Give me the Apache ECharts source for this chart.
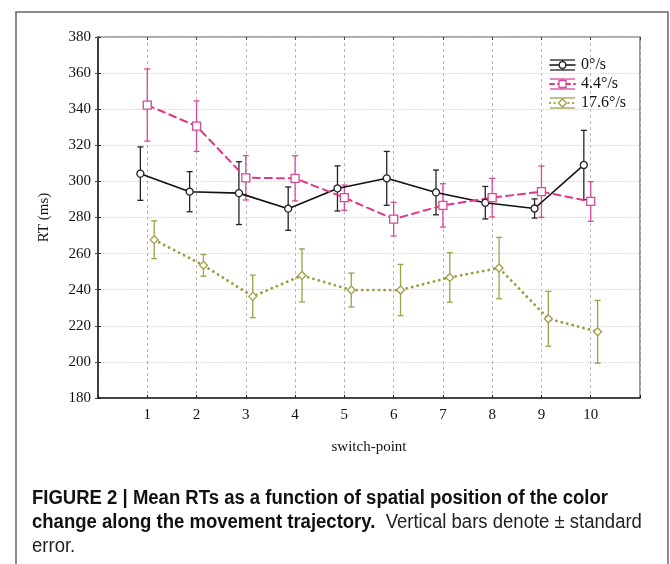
<!DOCTYPE html>
<html>
<head>
<meta charset="utf-8">
<script src="https://cdn.jsdelivr.net/npm/echarts@6/dist/echarts.min.js"></script>
<style>html,body{margin:0;padding:0;background:#fff;}#c{width:670px;height:564px;}</style>
</head>
<body>
<div id="c"></div>
<script>
// ---- data ----
var switchPoints = [1, 2, 3, 4, 5, 6, 7, 8, 9, 10];
var seriesNames = ['0°/s', '4.4°/s', '17.6°/s'];
var mean0 = [304.3, 294.3, 293.5, 284.9, 296.1, 301.7, 293.9, 288.2, 285.0, 309.1];
var se0 = [14.8, 11.1, 17.4, 12.0, 12.5, 14.9, 12.4, 9.0, 5.3, 19.2];
var mean44 = [342.3, 330.6, 302.0, 301.7, 291.0, 279.1, 286.7, 291.0, 294.3, 288.9];
var se44 = [20.0, 14.0, 12.3, 12.5, 7.0, 9.3, 12.0, 10.7, 14.2, 11.0];
var mean176 = [267.7, 253.5, 236.3, 247.9, 239.8, 239.8, 246.8, 252.0, 223.9, 216.7];
var se176 = [10.5, 6.0, 11.8, 14.7, 9.4, 14.2, 13.7, 17.0, 15.2, 17.4];
var yTicks = [180, 200, 220, 240, 260, 280, 300, 320, 340, 360, 380];

// ---- styling ----
var colors = ['#111111', '#e2358a', '#9c9c3c'];
var barColors = ['#222222', '#d9489a', '#a0a048'];
var jitter = [-0.14, 0, 0.14];
var symbols = ['circle', 'rect', 'diamond'];
var symbolSizes = [7, 8, 8];
var lineTypes = ['solid', [7, 5], [0.1, 5.5]];
var lineWidths = [1.6, 2, 2.8];
var serif = 'Liberation Serif, DejaVu Serif, serif';
var capFont = '"Liberation Sans", Arial, sans-serif';

var means = [mean0, mean44, mean176];
var ses = [se0, se44, se176];

function makeErrRender(color) {
  return function (params, api) {
    var x = api.value(0), lo = api.value(1), hi = api.value(2);
    var a = api.coord([x, lo]), b = api.coord([x, hi]);
    var w = 3;
    var st = { stroke: color, lineWidth: 1.3, fill: 'none' };
    return { type: 'group', children: [
      { type: 'line', shape: { x1: a[0], y1: a[1], x2: b[0], y2: b[1] }, style: st },
      { type: 'line', shape: { x1: a[0] - w, y1: a[1], x2: a[0] + w, y2: a[1] }, style: st },
      { type: 'line', shape: { x1: b[0] - w, y1: b[1], x2: b[0] + w, y2: b[1] }, style: st }
    ]};
  };
}

var series = [];
for (var s = 0; s < 3; s++) {
  var errData = [], lineData = [];
  for (var i = 0; i < switchPoints.length; i++) {
    var x = switchPoints[i] + jitter[s];
    errData.push([x, means[s][i] - ses[s][i], means[s][i] + ses[s][i]]);
    lineData.push([x, means[s][i]]);
  }
  series.push({
    type: 'custom', name: seriesNames[s] + ' err', renderItem: makeErrRender(barColors[s]),
    data: errData, encode: { x: 0, y: [1, 2] }, z: 2, silent: true
  });
  series.push({
    type: 'line', name: seriesNames[s], data: lineData, z: 3,
    symbol: symbols[s], symbolSize: symbolSizes[s], showAllSymbol: true,
    lineStyle: { color: colors[s], width: lineWidths[s], type: lineTypes[s], cap: 'round' },
    itemStyle: { color: '#ffffff', borderColor: barColors[s], borderWidth: 1.3 },
    animation: false
  });
}

// legend as graphics
var legendG = [];
var lx0 = 550, lx1 = 575, ly0 = 65, ldy = 19;
for (var k = 0; k < 3; k++) {
  var cy = ly0 + k * ldy;
  var st = { stroke: barColors[k], lineWidth: 1.3 };
  legendG.push({ type: 'line', shape: { x1: lx0, y1: cy - 5, x2: lx1, y2: cy - 5 }, style: st, z: 10 });
  legendG.push({ type: 'line', shape: { x1: lx0, y1: cy + 5, x2: lx1, y2: cy + 5 }, style: st, z: 10 });
  legendG.push({ type: 'line', shape: { x1: (lx0 + lx1) / 2, y1: cy - 5, x2: (lx0 + lx1) / 2, y2: cy + 5 }, style: st, z: 10 });
  legendG.push({ type: 'line', shape: { x1: lx0, y1: cy, x2: lx1, y2: cy },
    style: { stroke: colors[k], lineWidth: k === 2 ? 2.2 : lineWidths[k], lineCap: 'round',
      lineDash: k === 0 ? null : (k === 1 ? [4, 4] : [0.1, 4.5]) }, z: 10 });
  var mk;
  if (k === 0) mk = { type: 'circle', shape: { cx: (lx0 + lx1) / 2, cy: cy, r: 3.3 } };
  else if (k === 1) mk = { type: 'rect', shape: { x: (lx0 + lx1) / 2 - 3.5, y: cy - 3.5, width: 7, height: 7 } };
  else mk = { type: 'polygon', shape: { points: [[(lx0 + lx1) / 2, cy - 4], [(lx0 + lx1) / 2 + 4, cy], [(lx0 + lx1) / 2, cy + 4], [(lx0 + lx1) / 2 - 4, cy]] } };
  mk.style = { fill: '#fff', stroke: barColors[k], lineWidth: 1.3 };
  mk.z = 11;
  legendG.push(mk);
  legendG.push({ type: 'text', x: 581, y: cy, z: 11,
    style: { text: seriesNames[k], fill: '#111', font: '16px ' + serif, verticalAlign: 'middle', align: 'left' } });
}

var chart = echarts.init(document.getElementById('c'), null, { renderer: 'canvas' });
chart.setOption({
  animation: false,
  backgroundColor: '#ffffff',
  grid: { left: 98, right: 30, top: 37, bottom: 166, show: true, borderColor: '#555', borderWidth: 1.2 },
  xAxis: [{
    type: 'value', min: 0, max: 11, interval: 1,
    name: 'switch-point', nameLocation: 'middle', nameGap: 42,
    nameTextStyle: { fontFamily: serif, fontSize: 15, color: '#111' },
    axisLine: { show: true, lineStyle: { color: '#222', width: 1.5 } },
    axisTick: { show: true, inside: true, length: 3, lineStyle: { color: '#222' } },
    axisLabel: { fontFamily: serif, fontSize: 15, color: '#111', margin: 10,
      formatter: function (v) { return (v >= 1 && v <= 10) ? String(v) : ''; } },
    splitLine: { show: true, lineStyle: { color: '#b8b8b8', type: [3, 3], width: 1 } }
  }, {
    type: 'value', min: 0, max: 11, interval: 1, position: 'top',
    axisLine: { show: false }, axisLabel: { show: false },
    axisTick: { show: true, inside: true, length: 3, lineStyle: { color: '#444' } },
    splitLine: { show: false }
  }],
  yAxis: [{
    type: 'value', min: 180, max: 380, interval: 20,
    name: 'RT (ms)', nameLocation: 'middle', nameGap: 46, nameRotate: 90,
    nameTextStyle: { fontFamily: serif, fontSize: 15, color: '#111' },
    axisLine: { show: true, lineStyle: { color: '#222', width: 1.5 } },
    axisTick: { show: true, inside: true, length: 3, lineStyle: { color: '#222' } },
    axisLabel: { fontFamily: serif, fontSize: 15, color: '#111', margin: 7,
      customValues: yTicks },
    splitLine: { show: true, lineStyle: { color: '#c8c8c8', type: [1, 1.5], width: 1 } }
  }, {
    type: 'value', min: 180, max: 380, interval: 20, position: 'right',
    axisLine: { show: false }, axisLabel: { show: false },
    axisTick: { show: true, inside: true, length: 3, lineStyle: { color: '#444' } },
    splitLine: { show: false }
  }],
  series: series,
  graphic: [
    { type: 'polyline', shape: { points: [[16, 566], [16, 12], [668, 12], [668, 566]] },
      style: { stroke: '#666', lineWidth: 1.5, fill: 'none' }, z: 1 },
    { type: 'text', x: 32, y: 498, scaleX: 0.926, style: {
        text: '{b|FIGURE 2 | Mean RTs as a function of spatial position of the color}',
        verticalAlign: 'middle', rich: { b: { font: 'bold 20px ' + capFont, fill: '#111' } } } },
    { type: 'text', x: 32, y: 522, scaleX: 0.926, style: {
        text: '{b|change along the movement trajectory.}{r|  Vertical bars denote ± standard}',
        verticalAlign: 'middle', rich: {
          b: { font: 'bold 20px ' + capFont, fill: '#111' },
          r: { font: '20px ' + capFont, fill: '#222' } } } },
    { type: 'text', x: 32, y: 546, scaleX: 0.926, style: {
        text: '{r|error.}', verticalAlign: 'middle',
        rich: { r: { font: '20px ' + capFont, fill: '#222' } } } }
  ].concat(legendG)
});
</script>
</body>
</html>
